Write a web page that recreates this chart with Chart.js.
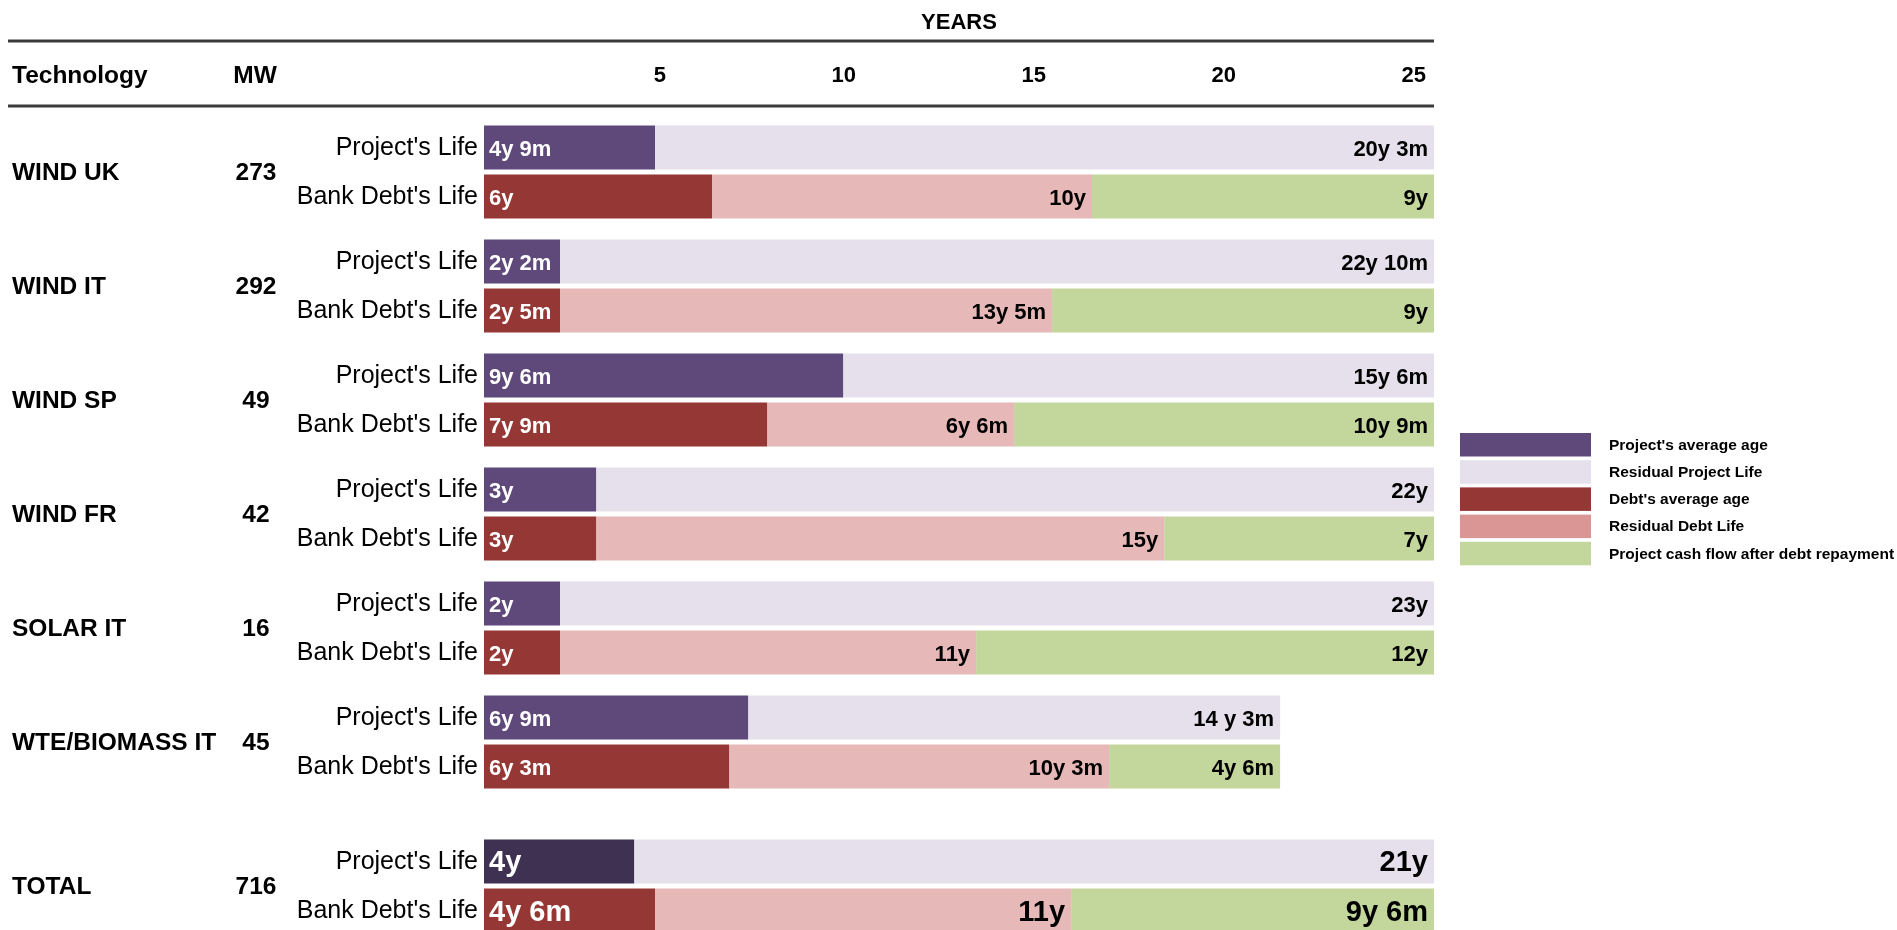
<!DOCTYPE html>
<html>
<head>
<meta charset="utf-8">
<title>Project and bank debt life by technology</title>
<script src="https://cdn.jsdelivr.net/npm/chart.js@4.4.1/dist/chart.umd.min.js"></script>
<style>
    html, body { margin: 0; padding: 0; background: #fff; overflow: hidden; }
    #mainChart { position: absolute; left: 0; top: 0; }
    #totalChart { position: absolute; left: 0; top: 829px; }
</style>
</head>
<body>
<canvas id="mainChart" width="1897" height="812"></canvas>
<canvas id="totalChart" width="1897" height="114"></canvas>
<script>
//dữ liệu bảng: công nghệ và công suất
var technologies = ['WIND UK', 'WIND IT', 'WIND SP', 'WIND FR', 'SOLAR IT', 'WTE/BIOMASS IT'];
var capacityMW = [273, 292, 49, 42, 16, 45];

//số năm, đọc theo chiều dài thanh
var projectAge = [4.5, 2, 9.45, 2.95, 2, 6.95];
var projectResidual = [20.5, 23, 15.55, 22.05, 23, 14];
var debtAge = [6, 2, 7.45, 2.95, 2, 6.45];
var debtResidual = [10, 12.95, 6.5, 14.95, 10.95, 10];
var cashAfterDebt = [9, 10.05, 11.05, 7.1, 12.05, 4.5];

//nhãn ghi trong thanh
var projectAgeLabels = ['4y 9m', '2y 2m', '9y 6m', '3y', '2y', '6y 9m'];
var projectResidualLabels = ['20y 3m', '22y 10m', '15y 6m', '22y', '23y', '14 y 3m'];
var debtAgeLabels = ['6y', '2y 5m', '7y 9m', '3y', '2y', '6y 3m'];
var debtResidualLabels = ['10y', '13y 5m', '6y 6m', '15y', '11y', '10y 3m'];
var cashAfterDebtLabels = ['9y', '9y', '10y 9m', '7y', '12y', '4y 6m'];

//dòng tổng
var totalName = ['TOTAL'];
var totalMW = [716];
var totalProject = [3.95, 21.05];
var totalDebt = [4.5, 10.95, 9.55];
var totalProjectLabels = ['4y', '21y'];
var totalDebtLabels = ['4y 6m', '11y', '9y 6m'];

var yearTicks = [5, 10, 15, 20, 25];
var rowNames = ["Project's Life", "Bank Debt's Life"];
var seriesNames = ["Project's average age", 'Residual Project Life', "Debt's average age", 'Residual Debt Life', 'Project cash flow after debt repayment'];
var seriesColors = ['#5f497a', '#e5e0ec', '#953735', '#e6b9b8', '#c3d69b'];
var legendColors = ['#5f497a', '#e5e0ec', '#953735', '#d99694', '#c3d69b'];
var totalAgeColor = '#3f3151';

var FONT = "'Liberation Sans', Arial, sans-serif";
Chart.defaults.font.family = FONT;
Chart.defaults.color = '#000';

//ghi nhãn trong thanh + tên dòng bên trái thanh
var barLabels = {
    id: 'barLabels',
    afterDatasetsDraw: function (chart) {
        var ctx = chart.ctx;
        ctx.save();
        ctx.textBaseline = 'middle';
        chart.data.datasets.forEach(function (ds, i) {
            var meta = chart.getDatasetMeta(i);
            meta.data.forEach(function (bar, j) {
                if (ds.rowName) {
                    ctx.font = '25px ' + FONT;
                    ctx.fillStyle = '#000';
                    ctx.textAlign = 'right';
                    ctx.fillText(ds.rowName, chart.chartArea.left - 6, bar.y + 1);
                }
                ctx.font = 'bold ' + ds.labelSize + 'px ' + FONT;
                ctx.fillStyle = ds.labelColor;
                if (ds.labelAtStart) {
                    ctx.textAlign = 'left';
                    ctx.fillText(ds.labels[j], bar.base + 5, bar.y + 2);
                } else {
                    ctx.textAlign = 'right';
                    ctx.fillText(ds.labels[j], bar.x - 6, bar.y + 2);
                }
            });
        });
        ctx.restore();
    }
};

//cột công nghệ và MW bên trái
function tableColumns(names, values) {
    return {
        id: 'tableColumns',
        afterDraw: function (chart) {
            var ctx = chart.ctx;
            var yScale = chart.scales.y;
            ctx.save();
            ctx.font = 'bold 24.5px ' + FONT;
            ctx.fillStyle = '#000';
            ctx.textBaseline = 'middle';
            names.forEach(function (name, i) {
                var y = yScale.getPixelForValue(i) + 1;
                ctx.textAlign = 'left';
                ctx.fillText(name, 12, y);
                ctx.textAlign = 'center';
                ctx.fillText(values[i], 256, y);
            });
            ctx.restore();
        }
    };
}

//tiêu đề bảng, hai đường kẻ và chú thích
var header = {
    id: 'header',
    afterDraw: function (chart) {
        var ctx = chart.ctx;
        var right = chart.chartArea.right;
        ctx.save();
        ctx.strokeStyle = '#3a3a3a';
        ctx.lineWidth = 3;
        [41, 106].forEach(function (y) {
            ctx.beginPath();
            ctx.moveTo(8, y);
            ctx.lineTo(right, y);
            ctx.stroke();
        });
        ctx.fillStyle = '#000';
        ctx.font = 'bold 24.5px ' + FONT;
        ctx.textBaseline = 'middle';
        ctx.textAlign = 'left';
        ctx.fillText('Technology', 12, 76);
        ctx.textAlign = 'center';
        ctx.fillText('MW', 255, 76);

        ctx.font = 'bold 15.5px ' + FONT;
        ctx.textAlign = 'left';
        seriesNames.forEach(function (name, i) {
            var top = 433 + i * 27.2;
            ctx.fillStyle = legendColors[i];
            ctx.fillRect(1460, top, 131, 23.5);
            ctx.fillStyle = '#000';
            ctx.fillText(name, 1609, top + 12.5);
        });
        ctx.restore();
    }
};

function barSet(label, data, color, stack, labels, labelColor, labelSize, atStart, rowName) {
    return {
        label: label,
        data: data,
        backgroundColor: color,
        stack: stack,
        labels: labels,
        labelColor: labelColor,
        labelSize: labelSize,
        labelAtStart: atStart,
        rowName: rowName,
        borderWidth: 0,
        categoryPercentage: 0.86,
        barPercentage: 0.9
    };
}

function baseOptions(showAxis) {
    return {
        indexAxis: 'y',
        responsive: false,
        animation: false,
        events: [],
        layout: { padding: { left: 484, right: 463, top: 0, bottom: showAxis ? 13 : 0 } },
        plugins: { legend: { display: false }, tooltip: { enabled: false } },
        scales: {
            x: {
                display: showAxis,
                position: 'top',
                min: 0,
                max: 25,
                stacked: true,
                grid: { display: false, drawTicks: false },
                border: { display: false },
                afterBuildTicks: function (axis) {
                    axis.ticks = yearTicks.map(function (v) { return { value: v }; });
                },
                afterFit: function (axis) {
                    if (showAxis) axis.height = 115;
                },
                ticks: { align: 'end', labelOffset: -8, padding: 26, color: '#000', font: { size: 22, weight: 'bold' } },
                title: { display: true, text: 'YEARS', color: '#000', font: { size: 22, weight: 'bold' }, padding: { top: 10, bottom: 26 } }
            },
            y: { display: false, stacked: true }
        }
    };
}

//biểu đồ chính
new Chart(document.getElementById('mainChart'), {
    type: 'bar',
    data: {
        labels: technologies,
        datasets: [
            barSet(seriesNames[0], projectAge, seriesColors[0], 'project', projectAgeLabels, '#fff', 22, true, rowNames[0]),
            barSet(seriesNames[1], projectResidual, seriesColors[1], 'project', projectResidualLabels, '#000', 22, false),
            barSet(seriesNames[2], debtAge, seriesColors[2], 'debt', debtAgeLabels, '#fff', 22, true, rowNames[1]),
            barSet(seriesNames[3], debtResidual, seriesColors[3], 'debt', debtResidualLabels, '#000', 22, false),
            barSet(seriesNames[4], cashAfterDebt, seriesColors[4], 'debt', cashAfterDebtLabels, '#000', 22, false)
        ]
    },
    options: baseOptions(true),
    plugins: [barLabels, tableColumns(technologies, capacityMW), header]
});

//dòng tổng
new Chart(document.getElementById('totalChart'), {
    type: 'bar',
    data: {
        labels: totalName,
        datasets: [
            barSet(seriesNames[0], [totalProject[0]], totalAgeColor, 'project', [totalProjectLabels[0]], '#fff', 29, true, rowNames[0]),
            barSet(seriesNames[1], [totalProject[1]], seriesColors[1], 'project', [totalProjectLabels[1]], '#000', 29, false),
            barSet(seriesNames[2], [totalDebt[0]], seriesColors[2], 'debt', [totalDebtLabels[0]], '#fff', 29, true, rowNames[1]),
            barSet(seriesNames[3], [totalDebt[1]], seriesColors[3], 'debt', [totalDebtLabels[1]], '#000', 29, false),
            barSet(seriesNames[4], [totalDebt[2]], seriesColors[4], 'debt', [totalDebtLabels[2]], '#000', 29, false)
        ]
    },
    options: baseOptions(false),
    plugins: [barLabels, tableColumns(totalName, totalMW)]
});
</script>
</body>
</html>
